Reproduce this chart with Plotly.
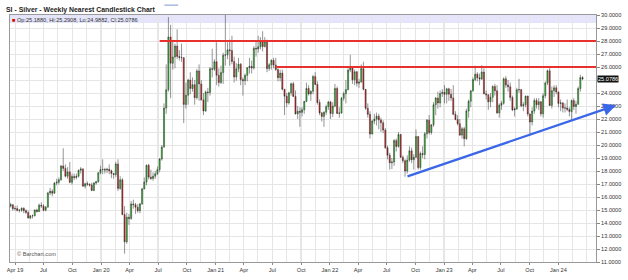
import pandas as pd
import plotly.graph_objects as go

# Weekly OHLC, week of 2019-03-18 .. week of 2024-03-18 (262 weeks)
opens = [
    15.30, 15.41, 15.10, 15.11, 14.97, 14.99, 15.14, 14.95, 14.80, 14.38, 14.56,
    14.56, 15.00, 14.88, 15.37, 15.31, 14.98, 15.22, 16.31, 16.44, 16.29, 17.07,
    17.13, 17.33, 18.39, 18.20, 17.60, 17.93, 17.13, 17.58, 17.50, 17.60, 18.06,
    18.16, 16.83, 17.02, 16.99, 16.92, 16.50, 17.07, 17.17, 17.87,
    # 2020
    18.11, 18.12, 18.07, 18.13, 18.02, 17.81, 17.73, 18.54, 16.66, 17.32, 14.65,
    12.55, 14.44, 14.34, 15.47, 15.41, 15.21, 14.94, 15.47, 16.62, 17.15, 18.44,
    17.53, 17.43, 17.60, 17.78, 18.11, 18.93, 19.84, 22.84, 24.25, 28.31, 26.29,
    26.77, 27.61, 26.81, 26.74, 26.72, 23.12, 23.83, 25.00, 24.34, 24.64, 23.64,
    25.70, 24.70, 23.48, 22.62, 24.08, 24.04, 25.87, 25.83,
    # 2021
    26.41, 25.36, 24.80, 25.57, 26.91, 26.93, 27.32, 27.26, 26.43, 25.23, 25.86,
    26.22, 25.03, 24.95, 25.36, 25.94, 26.05, 25.92, 27.44, 27.39, 27.55, 27.94,
    27.57, 27.99, 25.88, 26.17, 26.51, 26.15, 25.80, 25.18, 25.53, 24.29, 23.75,
    23.24, 24.01, 24.71, 23.74, 22.39, 22.60, 22.51, 22.71, 23.35, 24.35, 23.93,
    24.13, 25.26, 24.66, 23.27, 22.47, 22.20, 22.52, 22.95,
    # 2022
    23.31, 22.42, 23.00, 24.35, 22.43, 22.46, 23.60, 23.95, 24.26, 25.76, 25.95,
    25.01, 25.63, 24.75, 24.84, 25.88, 24.28, 22.82, 22.36, 20.85, 21.84, 22.00,
    22.22, 21.93, 21.71, 21.15, 19.79, 19.22, 18.63, 18.69, 20.34, 19.89, 20.81,
    19.06, 18.79, 18.00, 18.84, 19.55, 18.87, 19.06, 20.65, 18.26, 19.35, 19.27,
    20.86, 21.91, 20.96, 21.55, 23.10, 23.61, 23.23, 23.96,
    # 2023
    24.05, 23.90, 24.32, 23.91, 23.62, 22.36, 21.96, 21.64, 20.76, 21.25, 20.49,
    22.62, 23.36, 24.18, 25.03, 25.45, 25.18, 25.07, 25.61, 23.94, 23.87, 23.32,
    23.67, 24.50, 24.17, 22.47, 23.06, 23.22, 25.09, 24.61, 24.48, 23.66, 22.70,
    22.77, 24.25, 24.26, 23.01, 23.10, 23.76, 22.39, 21.77, 22.61, 23.43, 23.09,
    23.32, 22.40, 23.79, 24.77, 25.71, 23.04, 24.18, 24.40,
    # 2024
    24.08, 23.20, 23.24, 22.84, 22.85, 22.74, 22.57, 23.42, 22.96, 23.13, 24.34,
    25.188,
]
highs = [
    15.55, 15.45, 15.30, 15.35, 15.05, 15.20, 15.20, 15.05, 14.95, 14.60, 14.65,
    15.05, 15.10, 15.50, 15.60, 15.45, 15.30, 16.40, 16.70, 16.60, 17.15, 17.40,
    17.50, 18.45, 19.75, 18.50, 18.30, 18.70, 17.80, 17.80, 17.80, 18.10, 18.30,
    18.20, 17.10, 17.20, 17.05, 17.10, 17.15, 17.25, 17.90, 18.40,
    # 2020
    18.90, 18.25, 18.25, 18.50, 18.10, 17.85, 18.70, 18.90, 17.60, 17.45, 15.30,
    14.80, 14.70, 15.70, 15.80, 15.55, 15.45, 15.55, 16.70, 17.50, 18.50, 18.55,
    18.10, 17.90, 18.00, 18.35, 19.00, 20.00, 23.20, 26.20, 29.84, 29.25, 28.00,
    27.80, 28.90, 27.30, 27.80, 26.75, 24.80, 25.10, 25.60, 25.20, 25.00, 25.85,
    26.20, 25.00, 24.00, 24.20, 24.40, 26.00, 27.40, 26.60,
    # 2021
    27.90, 25.90, 26.10, 27.10, 30.10, 27.90, 28.10, 28.40, 26.80, 26.30, 26.70,
    26.30, 25.20, 25.50, 26.00, 26.70, 26.50, 27.60, 28.00, 28.40, 28.30, 28.75,
    28.30, 28.10, 26.30, 26.60, 26.70, 26.70, 25.90, 25.80, 25.80, 24.30, 24.00,
    24.10, 24.80, 24.85, 24.20, 23.00, 22.90, 22.90, 23.40, 24.80, 24.60, 24.20,
    25.40, 25.60, 24.90, 23.50, 22.55, 22.60, 23.10, 23.40,
    # 2022
    23.40, 23.30, 24.70, 24.50, 22.90, 23.70, 24.10, 25.00, 25.90, 26.94, 26.00,
    25.80, 25.70, 25.10, 26.20, 26.40, 24.30, 23.20, 22.60, 21.95, 22.40, 22.50,
    22.40, 22.10, 21.90, 21.30, 19.95, 19.40, 19.00, 20.45, 20.50, 21.00, 20.85,
    19.20, 18.90, 19.20, 19.90, 19.80, 19.30, 21.20, 20.70, 19.50, 19.90, 21.00,
    22.00, 22.30, 21.60, 23.30, 23.70, 24.10, 24.20, 24.30,
    # 2023
    24.60, 24.40, 24.40, 24.30, 24.60, 22.60, 22.30, 22.00, 21.40, 21.40, 22.80,
    23.50, 24.20, 25.20, 26.10, 25.60, 25.50, 26.14, 25.90, 24.20, 23.90, 24.00,
    24.60, 24.70, 24.60, 23.20, 23.40, 25.20, 25.30, 25.00, 24.80, 23.80, 22.90,
    24.40, 25.10, 24.30, 23.30, 23.80, 23.80, 22.40, 22.90, 23.60, 23.60, 23.60,
    23.40, 24.00, 24.90, 25.80, 26.00, 24.50, 24.60, 24.60,
    # 2024
    24.10, 23.50, 23.30, 23.20, 23.50, 22.90, 23.50, 23.60, 23.40, 24.50, 25.40,
    25.2908,
]
lows = [
    15.20, 14.95, 14.95, 14.90, 14.80, 14.85, 14.75, 14.70, 14.35, 14.30, 14.35,
    14.50, 14.80, 14.85, 15.15, 14.90, 14.90, 15.20, 16.15, 16.05, 16.25, 16.90,
    16.95, 17.25, 18.00, 17.50, 17.40, 17.05, 16.95, 17.30, 17.35, 17.50, 17.80,
    16.80, 16.65, 16.85, 16.80, 16.45, 16.45, 16.95, 17.10, 17.75,
    # 2020
    17.75, 17.80, 17.85, 17.75, 17.45, 17.40, 17.55, 16.45, 16.55, 14.60, 11.64,
    12.40, 13.85, 14.25, 15.10, 14.70, 14.80, 14.75, 15.40, 16.60, 16.90, 17.35,
    17.30, 17.25, 17.40, 17.70, 17.90, 18.80, 19.80, 22.40, 24.10, 23.60, 25.80,
    25.90, 26.60, 26.50, 26.40, 21.68, 22.80, 23.10, 23.90, 24.10, 23.10, 23.50,
    23.40, 23.40, 22.30, 22.55, 23.30, 23.80, 25.20, 25.70,
    # 2021
    24.60, 24.50, 24.70, 24.70, 26.10, 26.60, 26.10, 26.20, 24.80, 24.95, 25.60,
    24.60, 23.80, 24.60, 24.90, 25.50, 25.50, 25.80, 26.80, 27.10, 27.35, 27.20,
    27.50, 25.60, 25.70, 25.80, 25.90, 25.70, 24.90, 24.90, 24.20, 22.30, 22.90,
    23.10, 23.80, 23.70, 22.35, 22.00, 21.40, 22.20, 22.40, 23.30, 23.80, 23.40,
    23.90, 24.60, 23.10, 22.30, 21.80, 21.40, 22.30, 22.70,
    # 2022
    22.00, 22.15, 22.90, 22.40, 22.10, 22.40, 23.40, 23.20, 24.20, 25.60, 24.70,
    24.60, 24.50, 24.40, 24.80, 24.20, 22.70, 22.10, 20.50, 20.80, 21.60, 21.50,
    21.20, 21.00, 20.90, 19.70, 18.90, 18.10, 18.15, 18.40, 19.50, 19.80, 19.00,
    18.60, 17.56, 17.80, 18.70, 18.60, 18.10, 19.00, 18.10, 18.10, 19.00, 18.90,
    20.50, 20.80, 20.80, 21.40, 22.30, 22.80, 22.90, 23.70,
    # 2023
    23.20, 23.20, 23.40, 23.40, 22.30, 21.90, 21.50, 20.70, 20.50, 19.90, 20.40,
    22.10, 22.90, 24.10, 24.90, 24.90, 24.60, 25.00, 23.90, 23.50, 22.70, 22.90,
    23.30, 23.80, 22.40, 22.10, 22.70, 23.10, 24.40, 24.10, 23.40, 22.60, 22.20,
    22.70, 24.00, 22.90, 22.60, 22.90, 22.20, 20.69, 21.50, 22.40, 22.80, 22.70,
    22.20, 22.10, 23.60, 24.60, 23.00, 22.80, 23.70, 23.90,
    # 2024
    22.90, 22.60, 22.50, 22.50, 22.60, 22.20, 21.93, 22.70, 22.40, 23.10, 24.10,
    24.9882,
]
closes = [
    15.41, 15.10, 15.11, 14.97, 14.99, 15.14, 14.95, 14.80, 14.38, 14.56, 14.56,
    15.00, 14.88, 15.37, 15.31, 14.98, 15.22, 16.31, 16.44, 16.29, 17.07, 17.13,
    17.33, 18.39, 18.20, 17.60, 17.93, 17.13, 17.58, 17.50, 17.60, 18.06, 18.16,
    16.83, 17.02, 16.99, 16.92, 16.50, 17.07, 17.17, 17.87, 18.11,
    # 2020
    18.12, 18.07, 18.13, 18.02, 17.81, 17.73, 18.54, 16.66, 17.32, 14.65, 12.55,
    14.44, 14.34, 15.47, 15.41, 15.21, 14.94, 15.47, 16.62, 17.15, 18.44, 17.53,
    17.43, 17.60, 17.78, 18.11, 18.93, 19.84, 22.84, 24.25, 28.31, 26.29, 26.77,
    27.61, 26.81, 26.74, 26.72, 23.12, 23.83, 25.00, 24.34, 24.64, 23.64, 25.70,
    24.70, 23.48, 22.62, 24.08, 24.04, 25.87, 25.83, 26.41,
    # 2021
    25.36, 24.80, 25.57, 26.91, 26.93, 27.32, 27.26, 26.43, 25.23, 25.86, 26.22,
    25.03, 24.95, 25.36, 25.94, 26.05, 25.92, 27.44, 27.39, 27.55, 27.94, 27.57,
    27.99, 25.88, 26.17, 26.51, 26.15, 25.80, 25.18, 25.53, 24.29, 23.75, 23.24,
    24.01, 24.71, 23.74, 22.39, 22.60, 22.51, 22.71, 23.35, 24.35, 23.93, 24.13,
    25.26, 24.66, 23.27, 22.47, 22.20, 22.52, 22.95, 23.31,
    # 2022
    22.42, 23.00, 24.35, 22.43, 22.46, 23.60, 23.95, 24.26, 25.76, 25.95, 25.01,
    25.63, 24.75, 24.84, 25.88, 24.28, 22.82, 22.36, 20.85, 21.84, 22.00, 22.22,
    21.93, 21.71, 21.15, 19.79, 19.22, 18.63, 18.69, 20.34, 19.89, 20.81, 19.06,
    18.79, 18.00, 18.84, 19.55, 18.87, 19.06, 20.65, 18.26, 19.35, 19.27, 20.86,
    21.91, 20.96, 21.55, 23.10, 23.61, 23.23, 23.96, 24.05,
    # 2023
    23.90, 24.32, 23.91, 23.62, 22.36, 21.96, 21.64, 20.76, 21.25, 20.49, 22.62,
    23.36, 24.18, 25.03, 25.45, 25.18, 25.07, 25.61, 23.94, 23.87, 23.32, 23.67,
    24.50, 24.17, 22.47, 23.06, 23.22, 25.09, 24.61, 24.48, 23.66, 22.70, 22.77,
    24.25, 24.26, 23.01, 23.10, 23.76, 22.39, 21.77, 22.61, 23.43, 23.09, 23.32,
    22.40, 23.79, 24.77, 25.71, 23.04, 24.18, 24.40, 24.08,
    # 2024
    23.20, 23.24, 22.84, 22.85, 22.74, 22.57, 23.42, 22.96, 23.13, 24.34, 25.19,
    25.0786,
]

n = min(len(opens), len(highs), len(lows), len(closes))
weeks = pd.date_range("2019-03-18", periods=n, freq="W-MON")

tick_dates = ["2019-04-01", "2019-07-01", "2019-10-01", "2020-01-01", "2020-04-01",
              "2020-07-01", "2020-10-01", "2021-01-01", "2021-04-01", "2021-07-01",
              "2021-10-01", "2022-01-01", "2022-04-01", "2022-07-01", "2022-10-01",
              "2023-01-01", "2023-04-01", "2023-07-01", "2023-10-01", "2024-01-01"]
tick_labels = ["Apr 19", "Jul", "Oct", "Jan 20", "Apr", "Jul", "Oct", "Jan 21", "Apr",
               "Jul", "Oct", "Jan 22", "Apr", "Jul", "Oct", "Jan 23", "Apr", "Jul",
               "Oct", "Jan 24"]
y_ticks = list(range(11, 31))

# annotation levels
resistance_levels = [28.0, 26.0]
resistance_starts = ["2020-07-06", "2021-07-14"]
trend_start = ("2022-09-01", 17.55)
trend_end = ("2024-07-03", 23.05)

x_range = ["2019-03-16", "2024-04-30"]
y_range = [11, 30]

FONT = "Liberation Sans, Arial, sans-serif"
GRID = "#e6e6e6"

last = n - 1
last_close = closes[last]

fig = go.Figure()
fig.add_trace(go.Candlestick(
    x=weeks[:n], open=opens[:n], high=highs[:n], low=lows[:n], close=closes[:n],
    increasing=dict(line=dict(color="#2a2a2a", width=0.5), fillcolor="#1fd01f"),
    decreasing=dict(line=dict(color="#2a2a2a", width=0.5), fillcolor="#e01a1a"),
    whiskerwidth=0, showlegend=False, hoverinfo="skip",
))

# legend band at top of plot
fig.add_shape(type="rect", xref="paper", yref="paper", x0=0, x1=1, y0=1 - 8 / 248, y1=1,
              fillcolor="#e4e4fb", line=dict(width=0), layer="below")

for lvl, start in zip(resistance_levels, resistance_starts):
    fig.add_shape(type="line", xref="x", yref="y", x0=start, x1=x_range[1], y0=lvl, y1=lvl,
                  line=dict(color="#e8302c", width=2))

fig.add_annotation(x=trend_end[0], y=trend_end[1], ax=trend_start[0], ay=trend_start[1],
                   xref="x", yref="y", axref="x", ayref="y", text="", showarrow=True,
                   arrowhead=2, arrowsize=1.1, arrowwidth=2.3, arrowcolor="#3a66e8")

legend_text = ('<span style="color:#dd0000">■</span> Op:%.4f, Hi:%.4f, Lo:%.4f, Cl:%.4f'
               % (opens[last], highs[last], lows[last], closes[last]))
fig.add_annotation(xref="paper", yref="paper", x=0, y=1, xanchor="left", yanchor="top",
                   text=legend_text, showarrow=False,
                   font=dict(family=FONT, size=5.6, color="#333333"))

fig.add_annotation(xref="paper", yref="y", x=1, y=last_close, xanchor="left",
                   xshift=1, text="%.4f" % last_close, showarrow=False,
                   bgcolor="#111111", borderpad=0,
                   font=dict(family=FONT, size=5.6, color="#ffffff"))

fig.add_annotation(xref="paper", yref="paper", x=0, y=0, xanchor="left", yanchor="bottom",
                   xshift=5, yshift=3, text="© Barchart.com", showarrow=False,
                   font=dict(family=FONT, size=5.6, color="#555555"))

# small stray underline near the top of the page
fig.add_shape(type="line", xref="paper", yref="paper", x0=0.2635, x1=0.287, y0=1.04, y1=1.04,
              line=dict(color="#7b98d4", width=1))

# the price box hides the tick label it sits on
y_ticktext = ["" if abs(v - last_close) < 0.5 else "%.4f" % v for v in y_ticks]

fig.update_layout(
    width=628, height=280,
    margin=dict(l=7, r=29, t=15, b=17),
    paper_bgcolor="white", plot_bgcolor="white",
    title=dict(text="<b>SI - Silver - Weekly Nearest Candlestick Chart</b>",
               x=6 / 628, xanchor="left", y=1 - 9.5 / 280, yanchor="middle",
               font=dict(family=FONT, size=6.9, color="#222222")),
    font=dict(family=FONT, size=5.6, color="#333333"),
    showlegend=False,
)
fig.update_xaxes(
    type="date", range=x_range, rangeslider=dict(visible=False),
    tickmode="array", tickvals=tick_dates, ticktext=tick_labels,
    ticks="outside", ticklen=2, tickcolor="#888888",
    showgrid=True, gridcolor=GRID, gridwidth=1,
    minor=dict(dtick=365.25 / 8 * 86400000, tick0="2019-04-01", showgrid=True,
               gridcolor=GRID, gridwidth=1),
    showline=True, linecolor="#999999", linewidth=1, mirror=True,
    tickfont=dict(family=FONT, size=5.6, color="#333333"),
    zeroline=False, fixedrange=True,
)
fig.update_yaxes(
    side="right", range=y_range, tickmode="array", tickvals=y_ticks,
    ticktext=y_ticktext,
    ticks="outside", ticklen=3, tickcolor="#888888",
    showgrid=True, gridcolor=GRID, gridwidth=1,
    showline=True, linecolor="#999999", linewidth=1, mirror=True,
    tickfont=dict(family=FONT, size=5.6, color="#333333"),
    zeroline=False, fixedrange=True,
)

fig.write_html("out.html")
